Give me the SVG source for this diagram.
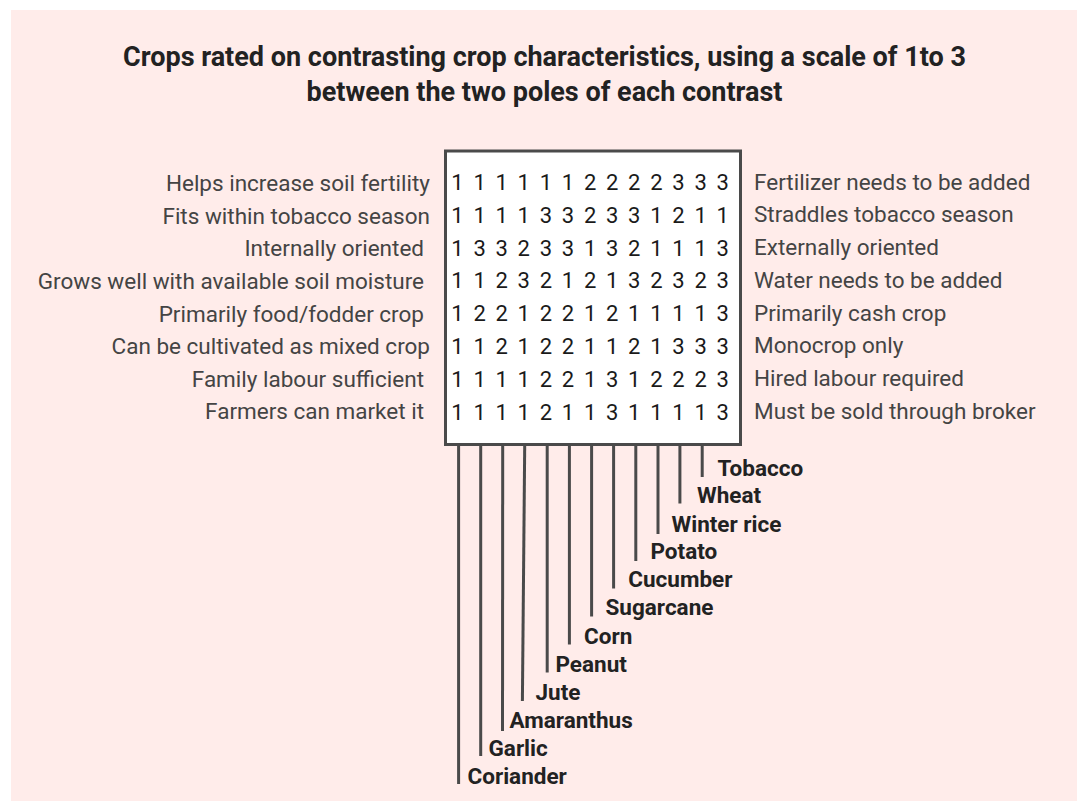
<svg xmlns="http://www.w3.org/2000/svg" width="1077" height="801" viewBox="0 0 1077 801">
  <style>
    .title { font-family: Roboto, "Liberation Sans", sans-serif; font-weight: bold; font-size: 27px; fill: #222; text-anchor: middle; }
    .pole { font-family: Roboto, "Liberation Sans", sans-serif; font-size: 22.5px; fill: #444; }
    .left { text-anchor: end; }
    .digits { font-family: Roboto, "Liberation Sans", sans-serif; font-size: 22px; fill: #1a1a1a; text-anchor: middle; }
    .crop { font-family: Roboto, "Liberation Sans", sans-serif; font-weight: bold; font-size: 22.5px; fill: #222; }
    .lead { stroke: #4a4a4a; stroke-width: 3; fill: none; }
  </style>

  <!-- background panel -->
  <rect x="11" y="10" width="1066" height="791" fill="#ffecea"/>

  <g id="title">
    <text class="title" x="544.5" y="66">Crops rated on contrasting crop characteristics, using a scale of 1to 3</text>
    <text class="title" x="544.5" y="101">between the two poles of each contrast</text>
  </g>

  <!-- rating matrix -->
  <g id="matrix">
    <rect x="445.5" y="151" width="295" height="293.5" fill="#ffffff" stroke="#4a4a4a" stroke-width="3"/>
    <g class="digits">
      <text x="457.5 479.6 501.7 523.8 545.9 568 590.1 612.2 634.3 656.4 678.5 700.6 722.7" y="190">1111112222333</text>
      <text x="457.5 479.6 501.7 523.8 545.9 568 590.1 612.2 634.3 656.4 678.5 700.6 722.7" y="222.8">1111332331211</text>
      <text x="457.5 479.6 501.7 523.8 545.9 568 590.1 612.2 634.3 656.4 678.5 700.6 722.7" y="255.6">1332331321113</text>
      <text x="457.5 479.6 501.7 523.8 545.9 568 590.1 612.2 634.3 656.4 678.5 700.6 722.7" y="288.4">1123212132323</text>
      <text x="457.5 479.6 501.7 523.8 545.9 568 590.1 612.2 634.3 656.4 678.5 700.6 722.7" y="321.2">1221221211113</text>
      <text x="457.5 479.6 501.7 523.8 545.9 568 590.1 612.2 634.3 656.4 678.5 700.6 722.7" y="354">1121221121333</text>
      <text x="457.5 479.6 501.7 523.8 545.9 568 590.1 612.2 634.3 656.4 678.5 700.6 722.7" y="386.8">1111221312223</text>
      <text x="457.5 479.6 501.7 523.8 545.9 568 590.1 612.2 634.3 656.4 678.5 700.6 722.7" y="419.6">1111211311113</text>
    </g>
  </g>

  <!-- left poles -->
  <g id="left-poles" class="pole left">
    <text x="430" y="191">Helps increase soil fertility</text>
    <text x="430" y="223.5">Fits within tobacco season</text>
    <text x="424" y="256">Internally oriented</text>
    <text x="424" y="288.8">Grows well with available soil moisture</text>
    <text x="424" y="321.5">Primarily food/fodder crop</text>
    <text x="430" y="354.2">Can be cultivated as mixed crop</text>
    <text x="424" y="386.8">Family labour sufficient</text>
    <text x="424" y="419.4">Farmers can market it</text>
  </g>

  <!-- right poles -->
  <g id="right-poles" class="pole">
    <text x="754" y="189.5">Fertilizer needs to be added</text>
    <text x="754" y="222.3">Straddles tobacco season</text>
    <text x="754" y="255">Externally oriented</text>
    <text x="754" y="287.8">Water needs to be added</text>
    <text x="754" y="320.6">Primarily cash crop</text>
    <text x="754" y="353.4">Monocrop only</text>
    <text x="754" y="386.2">Hired labour required</text>
    <text x="754" y="419">Must be sold through broker</text>
  </g>

  <!-- leader lines from the matrix columns to the crop names -->
  <g id="connectors" class="lead">
    <line x1="458.6" y1="446" x2="458.6" y2="784"/>
    <line x1="480.7" y1="446" x2="480.7" y2="756"/>
    <line x1="502.7" y1="446" x2="502.5" y2="731"/>
    <line x1="524.7" y1="446" x2="522.4" y2="701"/>
    <line x1="547.2" y1="446" x2="547.2" y2="672.5"/>
    <line x1="569.4" y1="446" x2="569.4" y2="644.5"/>
    <line x1="591.6" y1="446" x2="591.6" y2="616.5"/>
    <line x1="613.6" y1="446" x2="613.6" y2="588.5"/>
    <line x1="635.8" y1="446" x2="635.8" y2="561"/>
    <line x1="658" y1="446" x2="658" y2="534"/>
    <line x1="679.9" y1="446" x2="679.9" y2="503.5"/>
    <line x1="702.2" y1="446" x2="702.2" y2="477"/>
  </g>

  <g id="crop-coriander"><text class="crop" x="467.5" y="783.5">Coriander</text></g>
  <g id="crop-garlic"><text class="crop" x="488.5" y="755.5">Garlic</text></g>
  <g id="crop-amaranthus"><text class="crop" x="509.5" y="727.5">Amaranthus</text></g>
  <g id="crop-jute"><text class="crop" x="535.5" y="699.5">Jute</text></g>
  <g id="crop-peanut"><text class="crop" x="555.5" y="671.5">Peanut</text></g>
  <g id="crop-corn"><text class="crop" x="584" y="643.5">Corn</text></g>
  <g id="crop-sugarcane"><text class="crop" x="605.5" y="615">Sugarcane</text></g>
  <g id="crop-cucumber"><text class="crop" x="628.3" y="587">Cucumber</text></g>
  <g id="crop-potato"><text class="crop" x="650.5" y="559">Potato</text></g>
  <g id="crop-winter-rice"><text class="crop" x="671.5" y="531.5">Winter rice</text></g>
  <g id="crop-wheat"><text class="crop" x="697" y="503.3">Wheat</text></g>
  <g id="crop-tobacco"><text class="crop" x="717.5" y="475.7">Tobacco</text></g>
</svg>
